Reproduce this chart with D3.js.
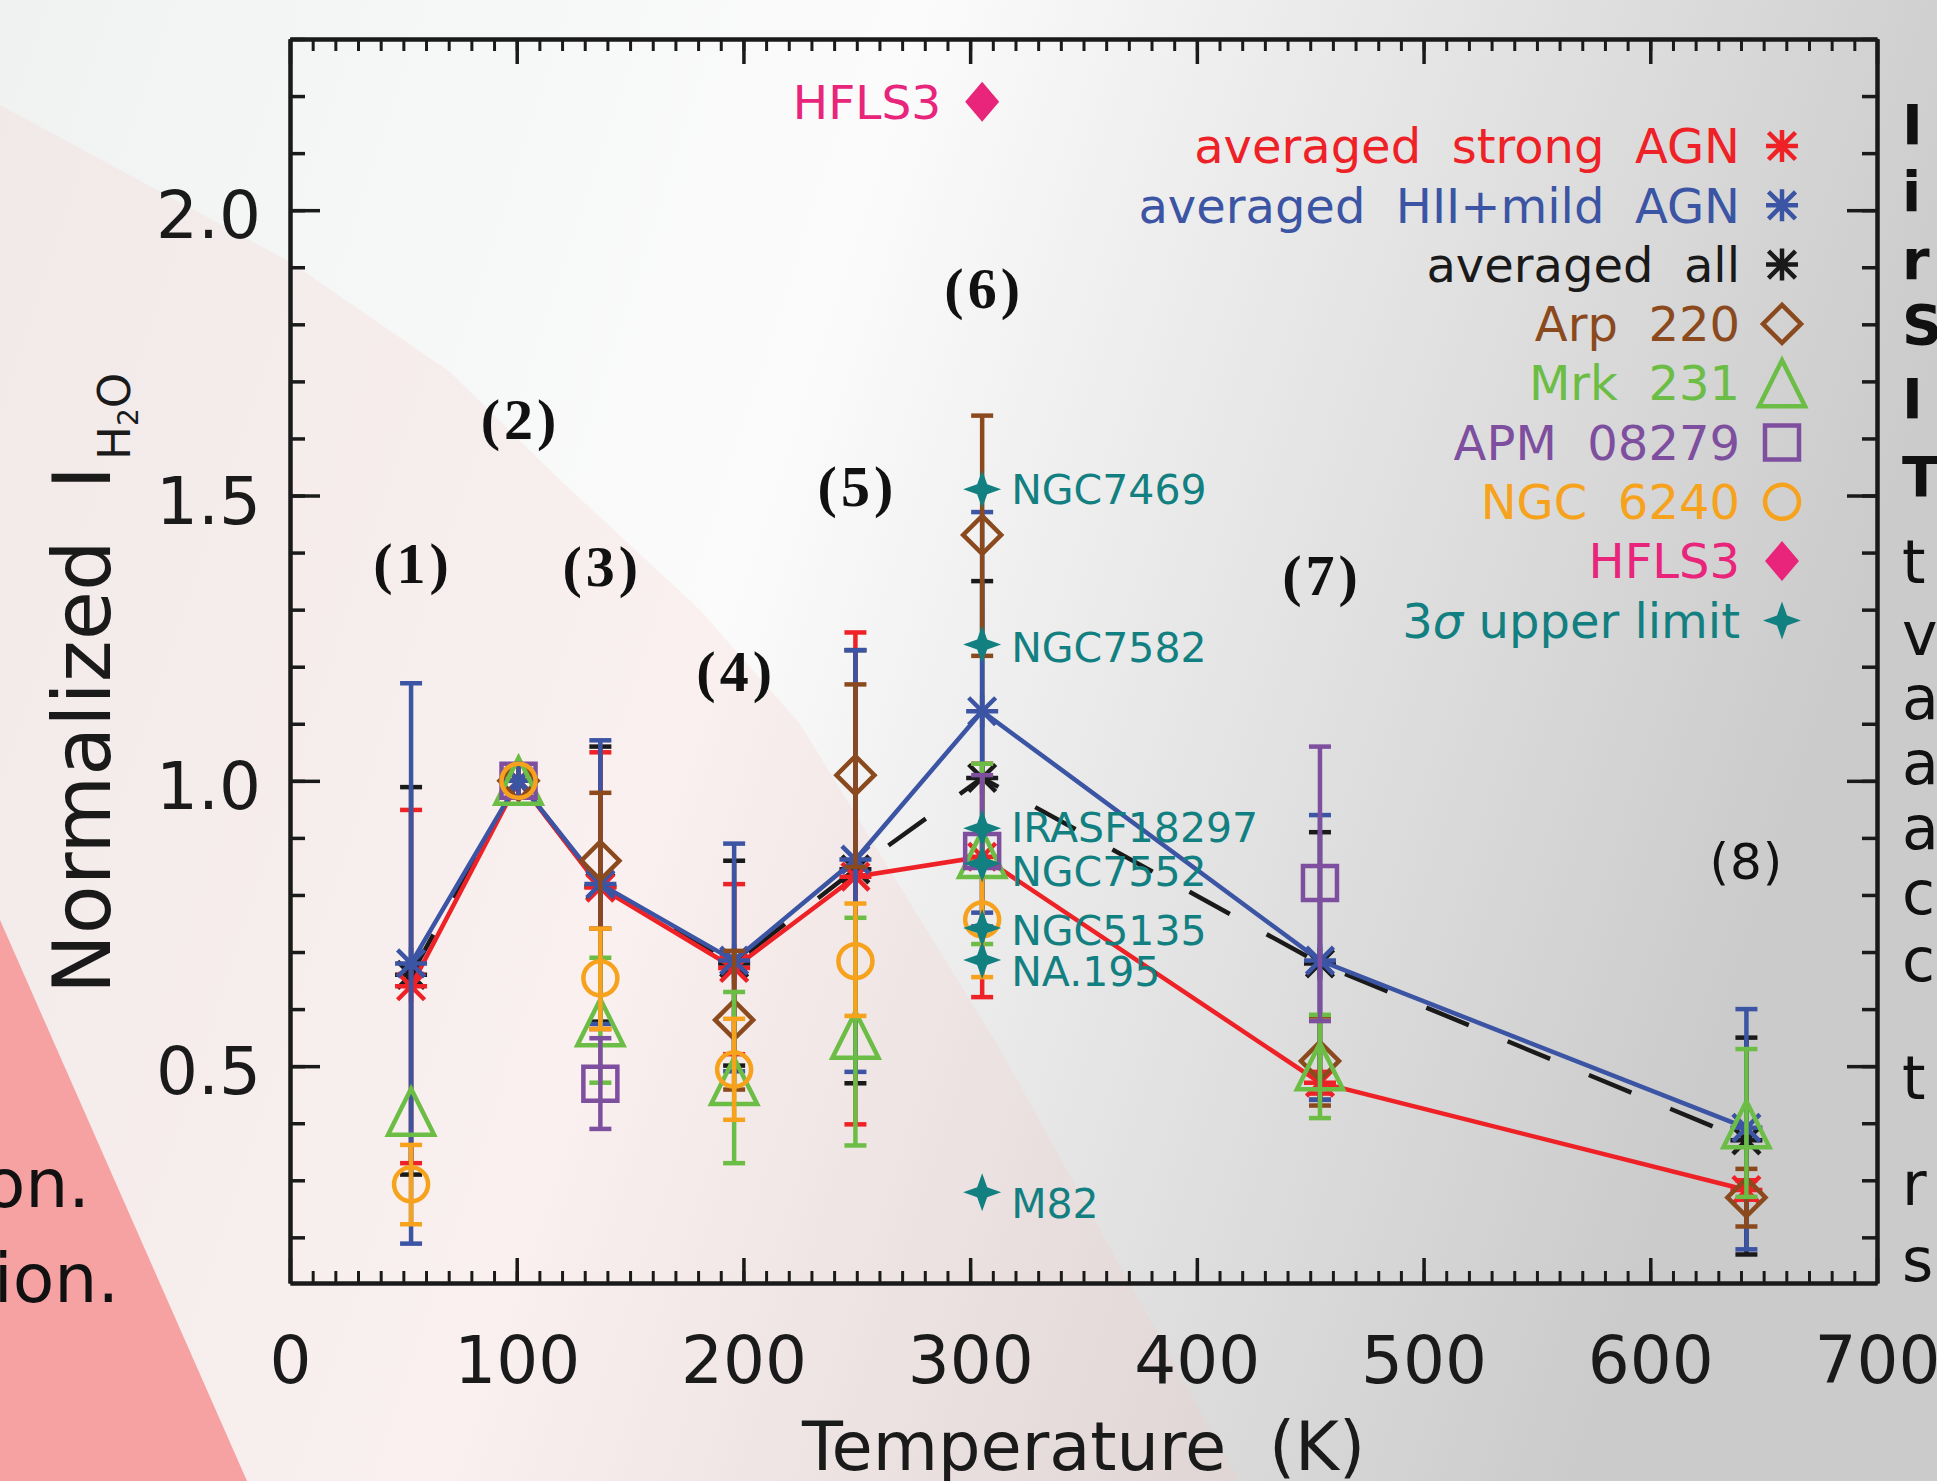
<!DOCTYPE html>
<html>
<head>
<meta charset="utf-8">
<script src="https://cdn.jsdelivr.net/npm/d3@7"></script>
<style>
  html, body { margin: 0; padding: 0; background: #ececec; }
  svg { display: block; font-family: "DejaVu Sans", sans-serif; }
</style>
</head>
<body>
<script>
// upper level energies (K) of the 8 H2O lines
const temps = [53.4, 100.8, 136.9, 195.9, 249.4, 305.3, 454.3, 642.4];
const lineLabels = ['(1)', '(2)', '(3)', '(4)', '(5)', '(6)', '(7)', '(8)'];
const lineLabelValues = [1.383, 1.636, 1.378, 1.194, 1.518, 1.865, 1.362, 0.859];

const xTicks = [0, 100, 200, 300, 400, 500, 600, 700];
const yTicks = [0.5, 1.0, 1.5, 2.0];

// averaged all
const allAvg   = [0.660, 1.0, 0.815, 0.680, 0.845, 1.005, 0.680, 0.370];
const allAvgLo = [0.310, null, 0.578, 0.501, 0.470, 0.686, 0.441, 0.170];
const allAvgHi = [0.989, null, 1.060, 0.860, 1.229, 1.350, 0.910, 0.550];

// averaged strong AGN
const strongAgn   = [0.640, 1.0, 0.813, 0.672, 0.832, 0.867, 0.471, 0.283];
const strongAgnLo = [0.330, null, 0.565, 0.521, 0.398, 0.621, 0.452, 0.266];
const strongAgnHi = [0.949, null, 1.050, 0.819, 1.260, 1.030, 0.490, 0.300];

// averaged HII + mild AGN
const hiiAgn   = [0.680, 1.0, 0.819, 0.685, 0.862, 1.122, 0.685, 0.392];
const hiiAgnLo = [0.189, null, 0.574, 0.491, 0.490, 0.769, 0.441, 0.179];
const hiiAgnHi = [1.171, null, 1.071, 0.890, 1.229, 1.471, 0.940, 0.600];

// individual sources
const arp220   = [null, 1.0, 0.860, 0.581, 1.010, 1.431, 0.509, 0.270];
const arp220Lo = [null, null, 0.741, 0.459, 0.849, 1.219, 0.431, 0.219];
const arp220Hi = [null, null, 0.979, 0.702, 1.169, 1.640, 0.587, 0.320];

const mrk231   = [0.420, 1.0, 0.577, 0.474, 0.555, 0.872, 0.500, 0.398];
const mrk231Lo = [null, null, 0.471, 0.330, 0.361, 0.714, 0.409, 0.271];
const mrk231Hi = [null, null, 0.690, 0.630, 0.760, 1.030, 0.590, 0.530];

const apm08279   = [null, 1.0, 0.469, null, null, 0.877, 0.821, null];
const apm08279Lo = [null, null, 0.390, null, null, 0.745, 0.579, null];
const apm08279Hi = [null, null, 0.549, null, null, 1.010, 1.060, null];

const ngc6240   = [0.293, 1.0, 0.654, 0.494, 0.684, 0.757, null, null];
const ngc6240Lo = [0.223, null, 0.565, 0.406, 0.588, 0.656, null, null];
const ngc6240Hi = [0.362, null, 0.741, 0.583, 0.785, 0.858, null, null];

// 3 sigma upper limits, all for line (6)
const limitNames  = ['NGC7469', 'NGC7582', 'IRASF18297', 'NGC7552', 'NGC5135', 'NA.195', 'M82'];
const limitValues = [1.511, 1.239, 0.917, 0.855, 0.742, 0.686, 0.279];
const limitLabelValues = [1.511, 1.234, 0.918, 0.842, 0.738, 0.666, 0.259];

const hfls3Value = 2.19;

const RED = '#ee2127', BLUE = '#3b54a3', BLACK = '#1a1a1a', BROWN = '#8b4a1e',
  GREEN = '#6cbd45', PURPLE = '#7d4f9e', ORANGE = '#f6a21d', PINK = '#e8247b', TEAL = '#128080';

const series = [
  {color: BLACK, symbol: 'asterisk', values: allAvg, lo: allAvgLo, hi: allAvgHi, line: '46,42'},
  {color: RED, symbol: 'asterisk', values: strongAgn, lo: strongAgnLo, hi: strongAgnHi, line: 'none'},
  {color: BLUE, symbol: 'asterisk', values: hiiAgn, lo: hiiAgnLo, hi: hiiAgnHi, line: 'none'},
  {color: BROWN, symbol: 'diamond', values: arp220, lo: arp220Lo, hi: arp220Hi},
  {color: GREEN, symbol: 'triangle', values: mrk231, lo: mrk231Lo, hi: mrk231Hi},
  {color: PURPLE, symbol: 'square', values: apm08279, lo: apm08279Lo, hi: apm08279Hi},
  {color: ORANGE, symbol: 'circle', values: ngc6240, lo: ngc6240Lo, hi: ngc6240Hi}
];

const legendItems = [
  {label: 'averaged  strong  AGN', color: RED, symbol: 'asterisk'},
  {label: 'averaged  HII+mild  AGN', color: BLUE, symbol: 'asterisk'},
  {label: 'averaged  all', color: BLACK, symbol: 'asterisk'},
  {label: 'Arp  220', color: BROWN, symbol: 'diamond'},
  {label: 'Mrk  231', color: GREEN, symbol: 'triangle'},
  {label: 'APM  08279', color: PURPLE, symbol: 'square'},
  {label: 'NGC  6240', color: ORANGE, symbol: 'circle'},
  {label: 'HFLS3', color: PINK, symbol: 'filledDiamond'},
  {label: '3σ upper limit', color: TEAL, symbol: 'star4'}
];

const W = 1937, H = 1481;
const x = d3.scaleLinear().domain([0, 700]).range([290, 1877]);
const y = d3.scaleLinear().domain([0.12, 2.3]).range([1283, 39]);

const svg = d3.select('body').append('svg').attr('width', W).attr('height', H);

// ---- slide background ----
const defs = svg.append('defs');
const grad = defs.append('linearGradient').attr('id', 'bg').attr('x1', 0).attr('x2', 1).attr('y1', 0).attr('y2', 0.25);
grad.append('stop').attr('offset', 0).attr('stop-color', '#f0f2f2');
grad.append('stop').attr('offset', 0.45).attr('stop-color', '#fbfbfb');
grad.append('stop').attr('offset', 1).attr('stop-color', '#cbcbcb');
svg.append('rect').attr('width', W).attr('height', H).attr('fill', 'url(#bg)');

const band = [[0, 105], [290, 262], [450, 372], [560, 480], [700, 610], [800, 724], [1000, 1049], [1239, 1481], [0, 1481]];
svg.append('path')
  .attr('d', d3.line()(band) + 'Z')
  .attr('fill', '#f8c8c8').attr('opacity', 0.22);
svg.append('path')
  .attr('d', 'M0,920L247,1481L0,1481Z')
  .attr('fill', '#f6a2a3');

// cut-off slide text around the figure
svg.append('text').attr('x', 90).attr('y', 1207).attr('text-anchor', 'end')
  .attr('font-size', 68).attr('fill', '#111').text('on.');
svg.append('text').attr('x', 119).attr('y', 1302).attr('text-anchor', 'end')
  .attr('font-size', 68).attr('fill', '#111').text('sion.');
const edgeLetters = ['I', 'i', 'r', 'S', 'I', 'T', 't', 'v', 'a', 'a', 'a', 'c', 'c', 't', 'r', 's'];
const edgeRows = [124, 191, 259, 324, 398, 476, 562, 634, 698, 763, 828, 893, 960, 1078, 1184, 1260];
edgeLetters.forEach((c, i) => {
  svg.append('text').attr('x', 1902).attr('y', edgeRows[i]).attr('dy', '0.35em')
    .attr('font-size', i < 6 ? 56 : 60).attr('font-weight', i < 6 ? 'bold' : 'normal')
    .attr('fill', '#111').text(c);
});

// ---- axes ----
function styleAxis(g, width) {
  g.select('.domain').attr('stroke', BLACK).attr('stroke-width', 4);
  g.selectAll('.tick line').attr('stroke', BLACK).attr('stroke-width', width);
  g.selectAll('.tick text').attr('fill', BLACK).attr('font-size', 66)
    .attr('font-family', '"DejaVu Sans", sans-serif');
}
const minorX = d3.range(0, 701, 10);
const minorY = d3.range(0.2, 2.31, 0.1);

svg.append('g').attr('transform', 'translate(0,1283)')
  .call(d3.axisBottom(x).tickValues(minorX).tickSize(-12).tickSizeOuter(0).tickFormat(''))
  .call(g => styleAxis(g, 3));
svg.append('g').attr('transform', 'translate(0,1283)')
  .call(d3.axisBottom(x).tickValues(xTicks).tickSize(-25).tickSizeOuter(0).tickPadding(53).tickFormat(d3.format('d')))
  .call(g => styleAxis(g, 3.5));
svg.append('g').attr('transform', 'translate(0,39)')
  .call(d3.axisTop(x).tickValues(minorX).tickSize(-12).tickSizeOuter(0).tickFormat(''))
  .call(g => styleAxis(g, 3));
svg.append('g').attr('transform', 'translate(0,39)')
  .call(d3.axisTop(x).tickValues(xTicks).tickSize(-25).tickSizeOuter(0).tickFormat(''))
  .call(g => styleAxis(g, 3.5));
svg.append('g').attr('transform', 'translate(290,0)')
  .call(d3.axisLeft(y).tickValues(minorY).tickSize(-15).tickSizeOuter(0).tickFormat(''))
  .call(g => styleAxis(g, 3.5));
svg.append('g').attr('transform', 'translate(290,0)')
  .call(d3.axisLeft(y).tickValues(yTicks).tickSize(-30).tickSizeOuter(0).tickPadding(29).tickFormat(d3.format('.1f')))
  .call(g => styleAxis(g, 3.5))
  .call(g => g.selectAll('.tick text').attr('dy', '0.42em'));
svg.append('g').attr('transform', 'translate(1877,0)')
  .call(d3.axisRight(y).tickValues(minorY).tickSize(-15).tickSizeOuter(0).tickFormat(''))
  .call(g => styleAxis(g, 3.5));
svg.append('g').attr('transform', 'translate(1877,0)')
  .call(d3.axisRight(y).tickValues(yTicks).tickSize(-30).tickSizeOuter(0).tickFormat(''))
  .call(g => styleAxis(g, 3.5));

// axis titles
svg.append('text').attr('x', (x(0) + x(700)) / 2).attr('y', 1470).attr('text-anchor', 'middle')
  .attr('font-size', 67).attr('fill', BLACK).style('white-space', 'pre').text('Temperature  (K)');

const yTitle = svg.append('text').attr('transform', 'translate(110,994) rotate(-90)')
  .attr('font-size', 80).attr('fill', BLACK).style('white-space', 'pre');
yTitle.append('tspan').text('Normalized  I');
yTitle.append('tspan').attr('font-size', 45).attr('dy', 20).attr('dx', 6).text('H');
yTitle.append('tspan').attr('font-size', 28).attr('dy', 8).text('2');
yTitle.append('tspan').attr('font-size', 45).attr('dy', -8).text('O');

// ---- symbols ----
function symbolPath(type) {
  if (type === 'asterisk') {
    const r = 16, k = 13.5;
    return `M0,${-r}V${r}M${-r},0H${r}M${-k},${-k}L${k},${k}M${-k},${k}L${k},${-k}`;
  }
  if (type === 'diamond') return 'M0,-19L19,0L0,19L-19,0Z';
  if (type === 'filledDiamond') return 'M0,-20L17,0L0,20L-17,0Z';
  if (type === 'triangle') return 'M0,-23L23,23L-23,23Z';
  if (type === 'square') return 'M-17,-17H17V17H-17Z';
  if (type === 'circle') return 'M17,0A17,17 0 1,1 -17,0A17,17 0 1,1 17,0Z';
  if (type === 'star4') return 'M0,-19L5,-5L19,0L5,5L0,19L-5,5L-19,0L-5,-5Z';
}
function drawSymbol(g, type, cx, cy, color) {
  const filled = type === 'filledDiamond' || type === 'star4';
  g.append('path').attr('d', symbolPath(type))
    .attr('transform', `translate(${cx},${cy})`)
    .attr('fill', filled ? color : 'none')
    .attr('stroke', filled ? 'none' : color)
    .attr('stroke-width', 4.5)
    .attr('stroke-linejoin', 'miter');
}

// ---- data ----
const plot = svg.append('g');
series.forEach(s => {
  const g = plot.append('g');
  if (s.line) {
    g.append('path')
      .attr('d', d3.line().defined((d, i) => d != null).x((d, i) => x(temps[i])).y(d => y(d))(s.values))
      .attr('fill', 'none').attr('stroke', s.color).attr('stroke-width', 4.5)
      .attr('stroke-dasharray', s.line);
  }
  s.values.forEach((v, i) => {
    if (s.lo[i] == null) return;
    const cx = x(temps[i]);
    g.append('line').attr('x1', cx).attr('x2', cx).attr('y1', y(s.lo[i])).attr('y2', y(s.hi[i]))
      .attr('stroke', s.color).attr('stroke-width', 4.5);
    [s.lo[i], s.hi[i]].forEach(e => {
      g.append('line').attr('x1', cx - 11).attr('x2', cx + 11).attr('y1', y(e)).attr('y2', y(e))
        .attr('stroke', s.color).attr('stroke-width', 4.5);
    });
  });
  s.values.forEach((v, i) => {
    if (v == null) return;
    drawSymbol(g, s.symbol, x(temps[i]), y(v), s.color);
  });
});

const limitT = temps[5];
limitValues.forEach((v, i) => {
  drawSymbol(plot, 'star4', x(limitT), y(v), TEAL);
  plot.append('text').attr('x', x(limitT) + 29).attr('y', y(limitLabelValues[i])).attr('dy', '0.36em')
    .attr('font-size', 41).attr('fill', TEAL).text(limitNames[i]);
});

drawSymbol(plot, 'filledDiamond', x(limitT), y(hfls3Value), PINK);
plot.append('text').attr('x', x(limitT) - 41).attr('y', y(hfls3Value)).attr('dy', '0.36em')
  .attr('text-anchor', 'end').attr('font-size', 47).attr('fill', PINK).text('HFLS3');

lineLabels.forEach((t, i) => {
  const last = i === lineLabels.length - 1;
  plot.append('text').attr('x', x(temps[i]) + (last ? 0 : 2)).attr('y', y(lineLabelValues[i])).attr('dy', '0.36em')
    .attr('text-anchor', 'middle')
    .style('font-family', last ? '"DejaVu Sans", sans-serif' : '"Liberation Serif", "DejaVu Serif", serif')
    .style('letter-spacing', last ? '1px' : '4px')
    .attr('font-weight', last ? 'normal' : 'bold')
    .attr('font-size', last ? 50 : 58).attr('fill', '#111').text(t);
});

// ---- legend ----
const legend = svg.append('g');
legendItems.forEach((d, i) => {
  const ly = 146 + i * 59.3;
  const t = legend.append('text').attr('x', 1740).attr('y', ly).attr('dy', '0.36em')
    .attr('text-anchor', 'end').attr('font-size', 48).attr('fill', d.color).style('white-space', 'pre');
  if (d.label.startsWith('3σ')) {
    t.append('tspan').text('3');
    t.append('tspan').attr('font-style', 'italic').text('σ');
    t.append('tspan').text(' upper limit');
  } else {
    t.text(d.label);
  }
  drawSymbol(legend, d.symbol, 1782, ly, d.color);
});
</script>
</body>
</html>
